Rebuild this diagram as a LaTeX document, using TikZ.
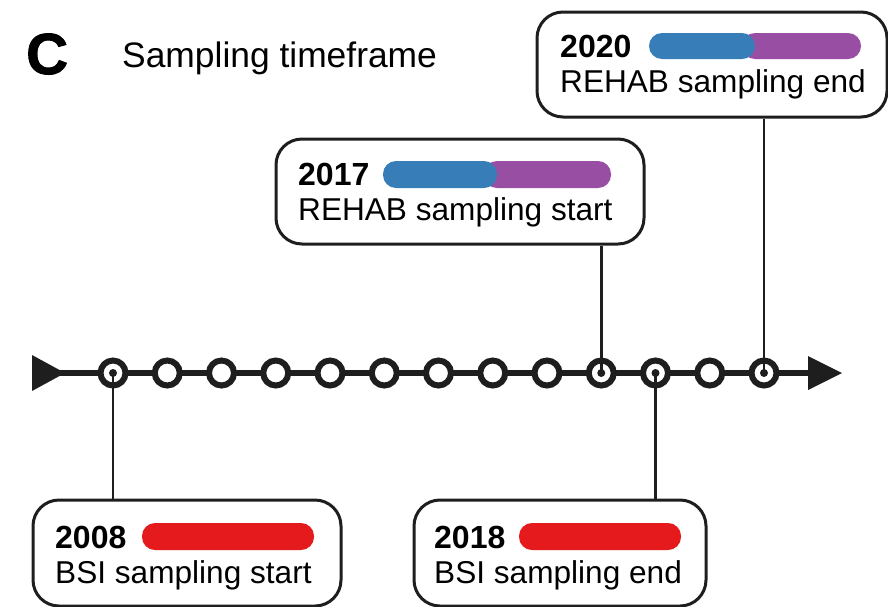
\documentclass[tikz,border=0pt]{standalone}
\usepackage{fontspec}
\setmainfont{Liberation Sans}
\newfontfamily\heavyfont[FakeBold=1.6]{Liberation Sans Bold}
\definecolor{inkc}{HTML}{1E1E1E}
\definecolor{setblue}{HTML}{377EB8}
\definecolor{setpurple}{HTML}{984EA3}
\definecolor{setred}{HTML}{E41A1C}
\tikzset{
  box/.style={draw=inkc, line width=3pt, rounded corners=26pt, rectangle, fill=white, inner sep=0pt},
  tick/.style={circle, draw=inkc, line width=6pt, fill=white, minimum size=25pt, inner sep=0pt},
  dot/.style={circle, fill=inkc, minimum size=8pt, inner sep=0pt},
  conn/.style={draw=inkc, line width=2.8pt},
  yeartxt/.style={anchor=base west, inner sep=0pt, font=\fontsize{32}{38}\selectfont\bfseries},
  labtxt/.style={anchor=base west, inner sep=0pt, font=\fontsize{31.6}{38}\selectfont},
  pill/.style={rounded corners=13pt}
}
\begin{document}
\begin{tikzpicture}[x=1pt, y=-1pt]
\useasboundingbox (0,0) rectangle (888,606);

% heading
\node[anchor=base west, inner sep=0pt, font=\fontsize{58}{62}\heavyfont] (panel) at (26,74) {C};
\node[anchor=base west, inner sep=0pt, font=\fontsize{35.4}{40}\selectfont] (title) at (122,67) {Sampling timeframe};

% axis
\coordinate (tstart) at (32,373);
\coordinate (tend) at (842,373);
\draw[inkc, line width=6pt] (tstart) -- ([xshift=-20pt]tend);
\fill[inkc] (tstart) ++(0,-18) -- ++(33,18) -- ++(-33,18) -- cycle;
\fill[inkc] (tend) -- ++(-34,-17) -- ++(0,34) -- cycle;

% yearly ticks
\foreach \i in {1,...,13}{
  \node[tick] (t\i) at ({113+(\i-1)*54.25},373) {};
}

% boxes
\node[box, minimum width=350pt, minimum height=105pt] (b2020) at (712,64.5) {};
\node[box, minimum width=368pt, minimum height=105pt] (b2017) at (460,191.5) {};
\node[box, minimum width=308pt, minimum height=106pt] (b2008) at (187,553) {};
\node[box, minimum width=292pt, minimum height=106pt] (b2018) at (560,553) {};

% connectors
\draw[conn] (t1.center) -- (t1.center |- b2008.north);
\draw[conn] (t11.center) -- (t11.center |- b2018.north);
\draw[conn] (t10.center) -- (t10.center |- b2017.south);
\draw[conn] (t13.center) -- (t13.center |- b2020.south);
\foreach \i in {1,10,11,13}{
  \node[dot] (d\i) at (t\i.center) {};
}

% 2020
\node[yeartxt] (y2020) at (560,57) {2020};
\node[labtxt] (l2020) at (560,92) {REHAB sampling end};
\fill[setpurple, pill] (742,33) rectangle (861,59);
\fill[setblue, pill] (649,33) rectangle (755,59);

% 2017
\node[yeartxt] (y2017) at (298,185) {2017};
\node[labtxt] (l2017) at (298,220) {REHAB sampling start};
\fill[setpurple, pill] (484,161) rectangle (611,188);
\fill[setblue, pill] (383,161) rectangle (497,188);

% 2008
\node[yeartxt] (y2008) at (55,548) {2008};
\node[labtxt] (l2008) at (55,583) {BSI sampling start};
\fill[setred, pill] (142,523) rectangle (314,550);

% 2018
\node[yeartxt] (y2018) at (434,548) {2018};
\node[labtxt] (l2018) at (434,583) {BSI sampling end};
\fill[setred, pill] (519,523) rectangle (681,550);
\end{tikzpicture}
\end{document}
